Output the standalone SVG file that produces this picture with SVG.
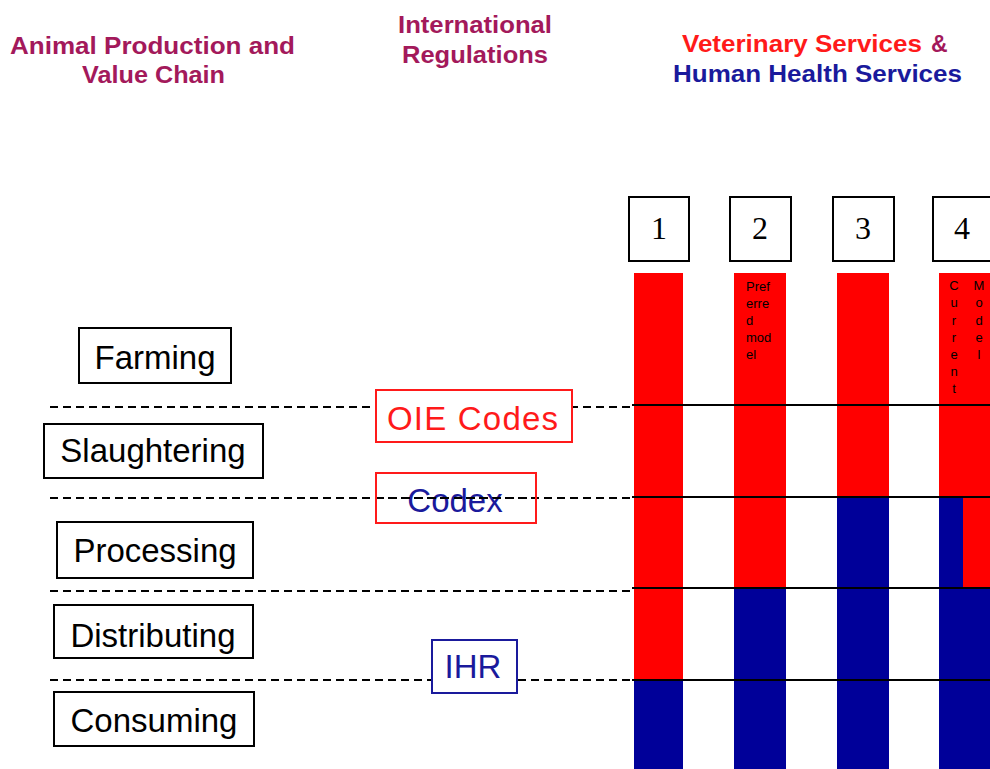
<svg xmlns="http://www.w3.org/2000/svg" width="990" height="769" viewBox="0 0 990 769">
<style>
.hdr{font-family:"Liberation Sans",Arial,sans-serif;font-weight:bold;font-size:23px}
.mag{fill:#a3195b}
.red{fill:#ff1a1a}
.navy{fill:#1a1a9c}
.box{fill:#fff;stroke:#000;stroke-width:2}
.lbl{font-family:"Liberation Sans",Arial,sans-serif;font-size:33px;fill:#000;text-anchor:middle}
.num{font-family:"Liberation Serif","Times New Roman",serif;font-size:32px;fill:#000;text-anchor:middle}
.dash{stroke:#000;stroke-width:2;stroke-dasharray:8,5;fill:none}
.solid{stroke:#000;stroke-width:2}
.small{font-family:"Liberation Sans",Arial,sans-serif;font-size:13px;fill:#000}
.vl{font-family:"Liberation Sans",Arial,sans-serif;font-size:13px;fill:#000;text-anchor:middle}
.rb{fill:#ff0000}
.bb{fill:#000099}
</style>
<rect width="990" height="769" fill="#fff"/>
<g id="headers">
<text class="hdr mag" x="10" y="54" textLength="285" lengthAdjust="spacingAndGlyphs">Animal Production  and</text>
<text class="hdr mag" x="82" y="83" textLength="143" lengthAdjust="spacingAndGlyphs">Value Chain</text>
<text class="hdr mag" x="398" y="33" textLength="154" lengthAdjust="spacingAndGlyphs">International</text>
<text class="hdr mag" x="402" y="63" textLength="146" lengthAdjust="spacingAndGlyphs">Regulations</text>
<text class="hdr red" x="682" y="52" textLength="240" lengthAdjust="spacingAndGlyphs">Veterinary Services</text>
<text class="hdr mag" x="931" y="52">&amp;</text>
<text class="hdr navy" x="673" y="82" textLength="289" lengthAdjust="spacingAndGlyphs">Human Health  Services</text>
</g>
<g id="bars">
<rect class="rb" x="634" y="273" width="49" height="407"/>
<rect class="bb" x="634" y="680" width="49" height="89"/>
<rect class="rb" x="734" y="273" width="52" height="315"/>
<rect class="bb" x="734" y="588" width="52" height="181"/>
<rect class="rb" x="837" y="273" width="52" height="224"/>
<rect class="bb" x="837" y="497" width="52" height="272"/>
<rect class="rb" x="939" y="273" width="51" height="224"/>
<rect class="bb" x="939" y="497" width="24" height="91"/>
<rect class="rb" x="963" y="497" width="27" height="91"/>
<rect class="bb" x="939" y="588" width="51" height="181"/>
<text class="small" x="746" y="291">Pref</text>
<text class="small" x="746" y="308">erre</text>
<text class="small" x="746" y="325">d</text>
<text class="small" x="746" y="342">mod</text>
<text class="small" x="746" y="359">el</text>
<text class="vl" x="954" y="290">C</text>
<text class="vl" x="954" y="307">u</text>
<text class="vl" x="954" y="325">r</text>
<text class="vl" x="954" y="342">r</text>
<text class="vl" x="954" y="359">e</text>
<text class="vl" x="954" y="376">n</text>
<text class="vl" x="954" y="393">t</text>
<text class="vl" x="979" y="290">M</text>
<text class="vl" x="979" y="307">o</text>
<text class="vl" x="979" y="325">d</text>
<text class="vl" x="979" y="342">e</text>
<text class="vl" x="979" y="359">l</text>
</g>
<g id="connectors">
<line class="dash" x1="50" y1="407" x2="633" y2="407"/>
<line class="dash" x1="50" y1="498" x2="633" y2="498"/>
<line class="dash" x1="50" y1="591" x2="633" y2="591"/>
<line class="dash" x1="50" y1="680" x2="633" y2="680"/>
<line class="solid" x1="632" y1="405" x2="990" y2="405"/>
<line class="solid" x1="632" y1="497" x2="990" y2="497"/>
<line class="solid" x1="632" y1="588" x2="990" y2="588"/>
<line class="solid" x1="632" y1="680" x2="990" y2="680"/>
</g>
<g id="num1"><rect class="box" x="629" y="197" width="60" height="64"/><text class="num" x="659" y="239">1</text></g>
<g id="num2"><rect class="box" x="730" y="197" width="61" height="64"/><text class="num" x="760" y="239">2</text></g>
<g id="num3"><rect class="box" x="833" y="197" width="61" height="64"/><text class="num" x="863" y="239">3</text></g>
<g id="num4"><rect class="box" x="933" y="197" width="60" height="64"/><text class="num" x="962" y="239">4</text></g>
<g id="farming"><rect class="box" x="79" y="328" width="152" height="55"/><text class="lbl" x="155" y="369">Farming</text></g>
<g id="slaughtering"><rect class="box" x="44" y="424" width="219" height="54"/><text class="lbl" x="153" y="462">Slaughtering</text></g>
<g id="processing"><rect class="box" x="57" y="522" width="196" height="56"/><text class="lbl" x="155" y="562">Processing</text></g>
<g id="distributing"><rect class="box" x="54" y="605" width="199" height="53"/><text class="lbl" x="153" y="647">Distributing</text></g>
<g id="consuming"><rect class="box" x="54" y="692" width="200" height="54"/><text class="lbl" x="154" y="732">Consuming</text></g>
<g id="oie"><rect x="376" y="390" width="196" height="52" fill="#fff" stroke="#ff1a1a" stroke-width="2"/><text class="lbl" x="387" y="430" style="fill:#ff1a1a;text-anchor:start" textLength="171">OIE  Codes</text></g>
<g id="codex"><text class="lbl" x="455" y="512" style="fill:#1a1a9c">Codex</text><line class="dash" x1="376" y1="498" x2="536" y2="498"/><rect x="376" y="473" width="160" height="50" fill="none" stroke="#ff1a1a" stroke-width="2"/></g>
<g id="ihr"><rect x="432" y="640" width="85" height="53" fill="#fff" stroke="#1a1a9c" stroke-width="2"/><text class="lbl" x="473" y="678" style="fill:#1a1a9c">IHR</text></g>
</svg>
